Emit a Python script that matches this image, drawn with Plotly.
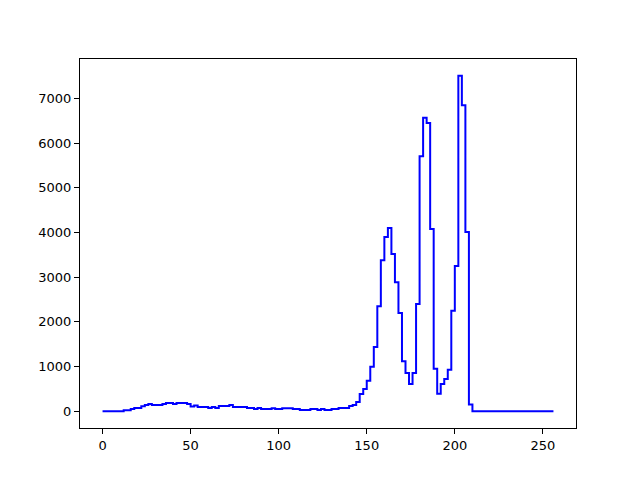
import plotly.graph_objects as go

# Histogram counts, 128 bins of width 2 over 0..256
counts = [
    0, 0, 0, 0, 0, 0, 22, 22, 52, 75,
    75, 112, 141, 164, 141, 141, 141, 164, 186, 186,
    164, 186, 186, 186, 164, 104, 127, 97, 97, 97,
    75, 97, 75, 119, 119, 119, 141, 97, 97, 97,
    97, 75, 75, 52, 75, 52, 52, 52, 67, 52,
    52, 67, 67, 67, 52, 52, 30, 30, 30, 52,
    52, 30, 52, 30, 30, 52, 52, 75, 75, 75,
    119, 141, 209, 388, 500, 680, 995, 1440, 2350, 3380,
    3900, 4100, 3520, 2890, 2200, 1120, 857, 611, 857, 2400,
    5710, 6570, 6450, 4080, 950, 390, 610, 720, 930, 2250,
    3250, 7510, 6850, 4010, 150, 0, 0, 0, 0, 0,
    0, 0, 0, 0, 0, 0, 0, 0, 0, 0,
    0, 0, 0, 0, 0, 0, 0, 0,
]
bin_lo = 0
bin_hi = 256
n_bins = len(counts)
width = (bin_hi - bin_lo) / n_bins
edges = [bin_lo + i * width for i in range(n_bins + 1)]

x_ticks = [0, 50, 100, 150, 200, 250]
y_ticks = [0, 1000, 2000, 3000, 4000, 5000, 6000, 7000]

fig = go.Figure()
fig.add_trace(go.Scatter(
    x=edges,
    y=counts + [counts[-1]],
    mode="lines",
    line=dict(color="#0000ff", width=2, shape="hv"),
    showlegend=False,
))

ymax = max(counts)
xpad = (bin_hi - bin_lo) * 0.05
ypad = ymax * 0.05

axis_common = dict(
    showgrid=False, zeroline=False, showline=True, linecolor="black",
    linewidth=1, mirror=True, ticks="outside", ticklen=5, tickwidth=1,
    tickcolor="black", tickfont=dict(family="DejaVu Sans", size=13, color="black"),
)

fig.update_layout(
    width=640, height=480,
    margin=dict(l=72, r=72, t=51, b=60),
    paper_bgcolor="white", plot_bgcolor="white",
    xaxis=dict(range=[bin_lo - xpad, bin_hi + xpad], tickvals=x_ticks, **axis_common),
    yaxis=dict(range=[-ypad, ymax + ypad], tickvals=y_ticks, **axis_common),
)

fig.write_html("out.html")
